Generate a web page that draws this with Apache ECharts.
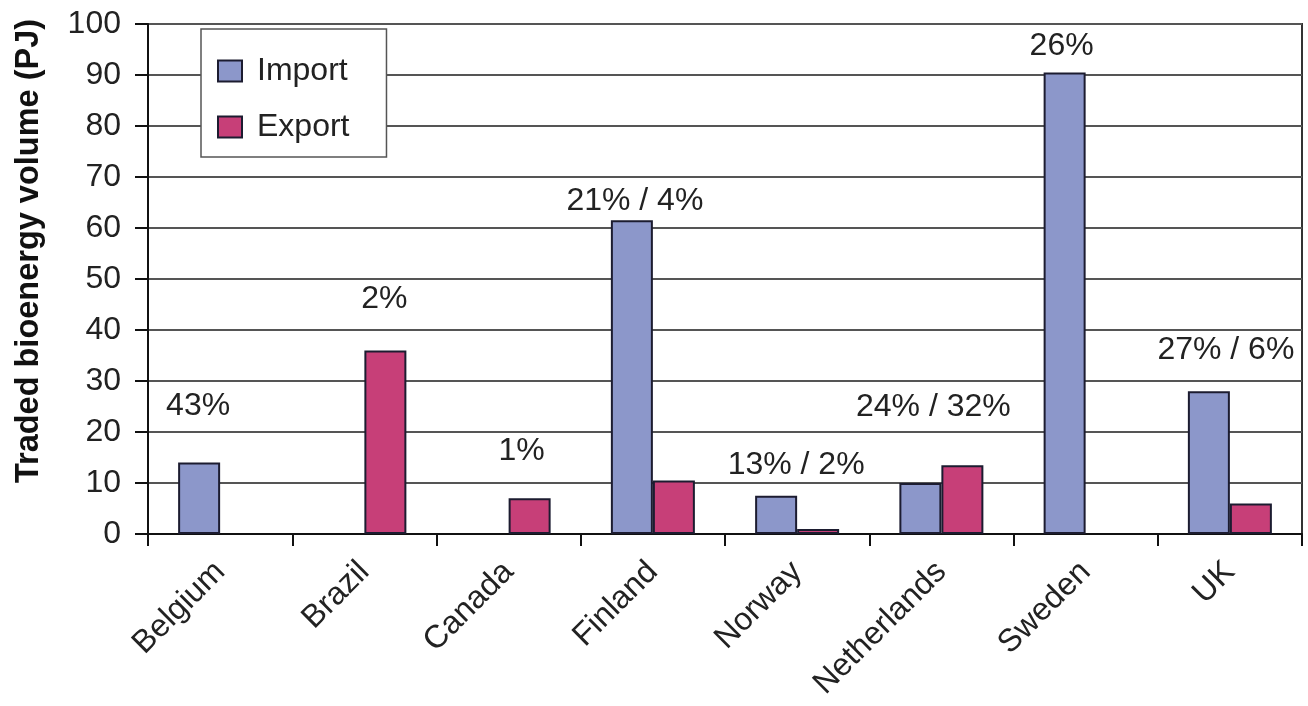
<!DOCTYPE html>
<html>
<head>
<meta charset="utf-8">
<script src="https://cdn.jsdelivr.net/npm/echarts@6/dist/echarts.min.js"></script>
<style>
  html, body { margin: 0; padding: 0; background: #fff; }
  #chart { width: 1308px; height: 706px; }
</style>
</head>
<body>
<div id="chart"></div>
<script>
// Traded bioenergy volumes by country (PJ)
const countries = ['Belgium', 'Brazil', 'Canada', 'Finland', 'Norway', 'Netherlands', 'Sweden', 'UK'];
const importPJ = [14, null, null, 61.5, 7.5, 10, 90.5, 28];
const exportPJ = [null, 36, 7, 10.5, 1, 13.5, null, 6];
// Share of national bioenergy use (import / export)
const shareLabels = ['43%', '2%', '1%', '21% / 4%', '13% / 2%', '24% / 32%', '26%', '27% / 6%'];
const shareOnExport = [false, true, true, false, false, false, false, false];
const yTicks = { min: 0, max: 100, interval: 10 };

// Pixel nudges of each share label from the top centre of the bar that carries it
const labelNudge = [[-1, -56], [-1, -51], [-8, -47], [3, -19], [20, -31], [13, -76], [-3, -26], [17, -41]];

const FONT = '"Liberation Sans", Arial, Helvetica, sans-serif';
const TEXT = '#222';

function withLabels(values, onExport) {
  return values.map((v, i) => {
    if (v == null) return null;
    if (shareOnExport[i] !== onExport) return v;
    return {
      value: v,
      label: {
        show: true,
        formatter: shareLabels[i],
        position: ['50%', 0],
        align: 'center',
        verticalAlign: 'middle',
        offset: labelNudge[i],
        fontFamily: FONT,
        fontSize: 32,
        color: TEXT
      }
    };
  });
}

const chart = echarts.init(document.getElementById('chart'), null, { renderer: 'canvas' });
chart.setOption({
  backgroundColor: '#fff',
  animation: false,
  grid: {
    left: 148, top: 24, right: 6, bottom: 172,
    show: true, borderColor: '#333', borderWidth: 2, backgroundColor: 'transparent'
  },
  legend: {
    orient: 'vertical',
    left: 201, top: 29,
    backgroundColor: '#fff',
    borderColor: '#555', borderWidth: 1.5,
    padding: [24, 37, 12, 16],
    itemGap: 20,
    itemWidth: 24, itemHeight: 21,
    icon: 'rect',
    textStyle: { fontFamily: FONT, fontSize: 32, color: TEXT, lineHeight: 36, padding: [0, 0, 0, 10] },
    data: ['Import', 'Export']
  },
  xAxis: {
    type: 'category',
    data: countries,
    axisLine: { lineStyle: { color: '#111', width: 2 } },
    axisTick: { show: true, length: 12, lineStyle: { color: '#111', width: 2 } },
    axisLabel: { rotate: 45, margin: 33, fontFamily: FONT, fontSize: 32, color: TEXT, interval: 0 },
    splitLine: { show: false }
  },
  yAxis: {
    type: 'value',
    min: yTicks.min, max: yTicks.max, interval: yTicks.interval,
    name: 'Traded bioenergy volume (PJ)',
    nameLocation: 'middle',
    nameGap: 102,
    nameTextStyle: {
      fontFamily: FONT, fontSize: 32.5, fontWeight: 'bold', color: '#111',
      padding: [0, 0, 0, 56]
    },
    axisLine: { show: true, lineStyle: { color: '#111', width: 2 } },
    axisTick: { show: true, length: 13, lineStyle: { color: '#111', width: 2 } },
    axisLabel: { margin: 27, fontFamily: FONT, fontSize: 32, color: TEXT },
    splitLine: { show: true, lineStyle: { color: '#555', width: 2 } }
  },
  series: [
    {
      name: 'Import',
      type: 'bar',
      data: withLabels(importPJ, false),
      barWidth: 42,
      barGap: '0%',
      itemStyle: { color: '#8c97ca', borderColor: '#1c1c30', borderWidth: 2 }
    },
    {
      name: 'Export',
      type: 'bar',
      data: withLabels(exportPJ, true),
      barWidth: 42,
      barGap: '0%',
      itemStyle: { color: '#c73f78', borderColor: '#1c1c30', borderWidth: 2 }
    }
  ]
});
</script>
</body>
</html>
